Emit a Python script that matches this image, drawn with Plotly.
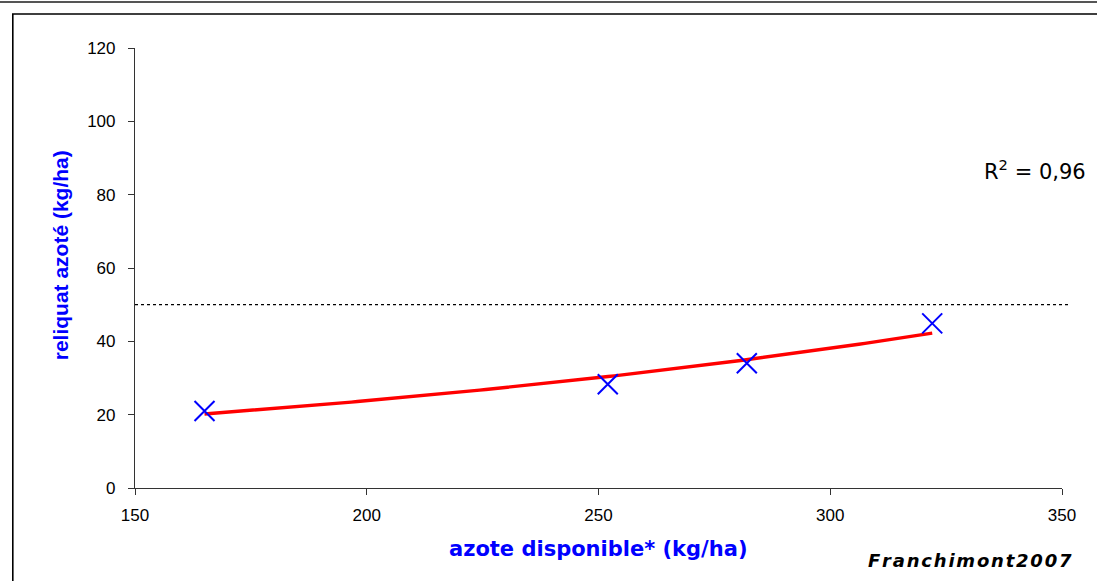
import numpy as np
import plotly.graph_objects as go

# Nitrogen available vs. residual nitrogen
azote_disponible = [165, 252, 282, 322]
reliquat_azote = [21.0, 28.3, 34.0, 44.9]
seuil_reliquat = 50
x_ticks = [150, 200, 250, 300, 350]
y_ticks = [0, 20, 40, 60, 80, 100, 120]

# exponential trend line (least squares on log y), like a spreadsheet trendline
xa = np.array(azote_disponible, dtype=float)
ya = np.array(reliquat_azote, dtype=float)
b, ln_a = np.polyfit(xa, np.log(ya), 1)
x_fit = np.linspace(xa.min(), xa.max(), 120)
y_fit = np.exp(ln_a) * np.exp(b * x_fit)

FONT = "Liberation Sans, Arial, sans-serif"
WIDE = "DejaVu Sans, Verdana, sans-serif"

# plot area in pixels
L, R, T, B = 135, 1062, 47.5, 488
W, H = R - L, B - T


def px(x):
    return (x - L) / W


def py(y):
    return (B - y) / H


fig = go.Figure()
fig.add_trace(go.Scatter(
    x=x_fit, y=y_fit, mode="lines",
    line=dict(color="#ff0000", width=3.4),
    hoverinfo="skip", showlegend=False,
))
fig.add_trace(go.Scatter(
    x=azote_disponible, y=reliquat_azote, mode="markers",
    marker=dict(symbol="x-thin", size=20, line=dict(color="#0000ff", width=2)),
    showlegend=False,
))

shapes = [
    # threshold line
    dict(type="line", xref="paper", yref="y", x0=0, x1=px(1068),
         y0=seuil_reliquat, y1=seuil_reliquat,
         line=dict(color="black", width=1.2, dash="dot")),
    # chart frame
    dict(type="rect", xref="paper", yref="paper",
         x0=px(12.8), x1=px(1100), y0=py(590), y1=py(13.5),
         line=dict(color="black", width=1.6), layer="below"),
    # upper frame edge
    dict(type="line", xref="paper", yref="paper",
         x0=px(-5), x1=px(1100), y0=py(1.5), y1=py(1.5),
         line=dict(color="#555555", width=2), layer="below"),
]

annotations = [
    dict(text="R<sup>2</sup> = 0,96", xref="paper", yref="paper",
         x=px(1088), y=py(170), xanchor="right", yanchor="middle",
         showarrow=False, font=dict(family=WIDE, size=21, color="black")),
    dict(text="&#8202;".join("Franchimont2007"),
         xref="paper", yref="paper", x=px(1074), y=py(561),
         xanchor="right", yanchor="middle", showarrow=False,
         font=dict(family=WIDE, size=18, color="black",
                   weight="bold", style="italic")),
    dict(text="<b>azote disponible* (kg/ha)</b>", xref="paper", yref="paper",
         x=px(598), y=py(549), xanchor="center", yanchor="middle",
         showarrow=False, font=dict(family=WIDE, size=21, color="#0000ff")),
    dict(text="<b>reliquat azoté (kg/ha)</b>", xref="paper", yref="paper",
         x=px(60), y=py(255), xanchor="center", yanchor="middle",
         textangle=-90, showarrow=False,
         font=dict(family=FONT, size=21, color="#0000ff")),
]

fig.update_layout(
    width=1097, height=581,
    margin=dict(l=L, r=1097 - R, t=T, b=581 - B, pad=0),
    paper_bgcolor="white", plot_bgcolor="white",
    font=dict(family=FONT, size=17, color="black"),
    shapes=shapes, annotations=annotations,
    xaxis=dict(
        range=[150, 350], tickvals=x_ticks, ticks="outside", ticklen=6,
        tickwidth=1, tickcolor="#333333", showline=True, linecolor="#333333",
        linewidth=1.2, showgrid=False, zeroline=False, ticklabelstandoff=5,
        tickfont=dict(family=FONT, size=17, color="black"),
    ),
    yaxis=dict(
        range=[0, 120], tickvals=y_ticks, ticks="outside", ticklen=6,
        tickwidth=1, tickcolor="#333333", showline=True, linecolor="#333333",
        linewidth=1.2, showgrid=False, zeroline=False, ticklabelstandoff=9,
        tickfont=dict(family=FONT, size=17, color="black"),
    ),
)

fig.write_html("out.html")
